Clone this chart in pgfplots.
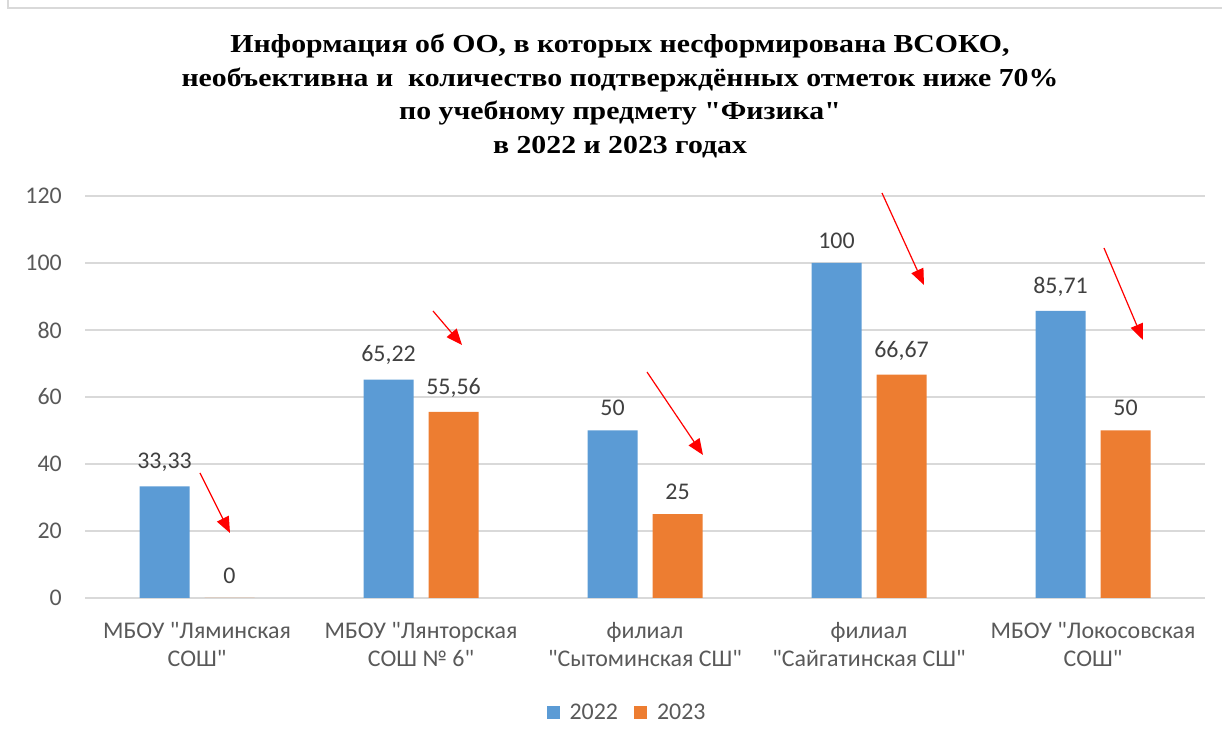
\documentclass[border=0pt]{standalone}
\usepackage{fontspec}
\setmainfont{Carlito}
\newfontfamily\calfont{Carlito}
\newfontfamily\titlefont[FakeStretch=1.15]{Liberation Serif}
\usepackage{pgfplots}
\pgfplotsset{compat=1.18}
\usetikzlibrary{arrows.meta}

\definecolor{bluebar}{HTML}{5B9BD5}
\definecolor{orangebar}{HTML}{ED7D31}
\definecolor{gridgray}{HTML}{D9D9D9}
\definecolor{ticktext}{HTML}{595959}
\definecolor{labeltext}{HTML}{404040}

\begin{document}
\calfont
\begin{tikzpicture}[x=1bp,y=1bp]
\useasboundingbox (0,0) rectangle (1222,745);
% chart frame
\draw[gridgray, line width=1.5bp] (8,745) -- (8,737) -- (1222,737);

\node[align=center, font=\titlefont\bfseries\fontsize{26}{34}\selectfont] at (620,649)
  {Информация об ОО, в которых несформирована ВСОКО,\\
   необъективна и \ количество подтверждённых отметок ниже 70\%\\
   по учебному предмету "Физика"\\
   в 2022 и 2023 годах};

\begin{axis}[
    at={(85bp,147bp)}, anchor=south west,
    scale only axis,
    width=1120bp, height=402bp,
    ybar=15bp,
    bar width=50bp,
    xmin=-0.5, xmax=4.5,
    ymin=0, ymax=120,
    ytick={0,20,...,120},
    xtick=data,
    xticklabels={{МБОУ "Ляминская\\СОШ"},{МБОУ "Лянторская\\СОШ № 6"},{филиал\\"Сытоминская СШ"},{филиал\\"Сайгатинская СШ"},{МБОУ "Локосовская\\СОШ"}},
    xticklabel style={align=center, font=\calfont\fontsize{24}{28}\selectfont, text=ticktext, inner sep=0pt, yshift=-20bp},
    yticklabel style={font=\calfont\fontsize{24}{28}\selectfont, text=ticktext, inner sep=0pt, xshift=-23bp},
    /pgf/number format/assume math mode=true,
    axis line style={draw=none},
    tick style={draw=none},
    ymajorgrids,
    grid style={gridgray, line width=1.2bp},
    nodes near coords,
    nodes near coords style={font=\calfont\fontsize{24}{28}\selectfont, text=labeltext, yshift=11bp,
        /pgf/number format/use comma, /pgf/number format/assume math mode=true},
    legend style={at={(0.484,-0.284)}, anchor=center, draw=none, legend columns=2,
        font=\calfont\fontsize{24}{28}\selectfont, text=ticktext,
        /tikz/every even column/.append style={column sep=14bp}},
    legend image code/.code={\fill[#1] (0bp,-6.5bp) rectangle (13bp,6.5bp); \path (21bp,0bp);},
]
\addplot[fill=bluebar, draw=none] coordinates {(0,33.33) (1,65.22) (2,50) (3,100) (4,85.71)};
\addplot[fill=orangebar, draw=none] coordinates {(0,0) (1,55.56) (2,25) (3,66.67) (4,50)};
\legend{2022, 2023}
\end{axis}

% red arrows
\begin{scope}[red, line width=1.2bp, -{Triangle[length=16bp,width=13bp]}]
\draw (200,272) -- (230,212);
\draw (433,434) -- (462,400);
\draw (647,373) -- (703,290);
\draw (882,552) -- (924,460);
\draw (1104,497) -- (1143,405);
\end{scope}
\end{tikzpicture}
\end{document}
